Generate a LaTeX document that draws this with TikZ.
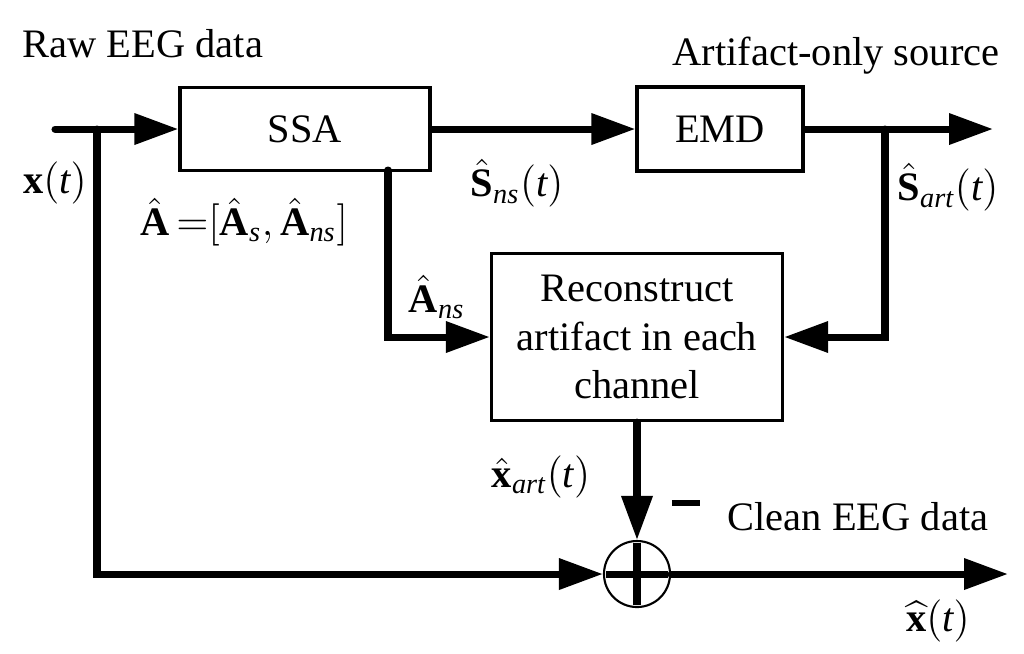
\documentclass[tikz,border=0pt]{standalone}
\usepackage{amsmath, amssymb}
\usepackage{fontspec}
\setmainfont{Liberation Serif}
\usepackage{tikz}
\usetikzlibrary{arrows.meta,shapes}

\begin{document}
\begin{tikzpicture}[x=0.01cm,y=-0.01cm,font=\fontsize{11.5}{13.7}\selectfont,
		block/.style={draw,line width=0.9pt,inner sep=0pt,align=center},
		sig/.style={line width=2pt,line cap=round,-{Triangle[length=12.5pt,width=8.5pt]}},
		lbl/.style={inner sep=0pt}]
		\useasboundingbox (0,0) rectangle (1024,653);
		\node[block,minimum width=2.5cm,minimum height=0.83cm] (ssa) at (305,129) {SSA};
		\node[block,minimum width=1.66cm,minimum height=0.84cm] (emd) at (720,129) {EMD};
		\node[block,minimum width=2.91cm,minimum height=1.67cm] (rec) at (637,337) {Reconstruct\\artifact in each\\channel};
		\node[draw,circle,line width=0.6pt,minimum size=0.66cm,inner sep=0pt] (sum) at (637,574) {};
		\draw[line width=2pt] ([yshift=-1pt]sum.north) -- ([yshift=1pt]sum.south)
		([xshift=1pt]sum.west) -- ([xshift=-1pt]sum.east);
		%
		\coordinate (in) at (55,129);
		\coordinate (split) at (97,129);
		\coordinate (ssab) at (388,170);
		\coordinate (branch) at (885,129);
		\coordinate (out1) at (993,129);
		\coordinate (out2) at (1008,574);
		%
		\draw[sig] (in) -- (ssa.west);
		\draw[sig] (ssa.east) -- (emd.west);
		\draw[sig] (emd.east) -- (out1);
		\draw[sig] (ssab) |- (rec.west);
		\draw[sig] (branch) |- (rec.east);
		\draw[sig] (rec.south) -- (sum.north);
		\draw[sig] (split) |- (sum.west);
		\draw[sig] (sum.east) -- (out2);
		%
		\node[lbl,anchor=base west] (raw) at (22,57) {Raw EEG data};
		\node[lbl,anchor=base west] (src) at (672,65) {Artifact-only source};
		\node[lbl,anchor=base west] (clean) at (727,530) {Clean EEG data};
		\node[lbl] (x) at (55,183) {$\mathbf{x}(\mathit{t})$};
		\node[lbl] (A) at (244,222) {$\hat{\mathbf{A}}\,{=}[\hat{\mathbf{A}}_{\mathit{s}},\hat{\mathbf{A}}_{\mathit{ns}}]$};
		\node[lbl] (Sns) at (517,183) {$\hat{\mathbf{S}}_{\mathit{ns}}(\mathit{t})$};
		\node[lbl] (Sart) at (948,187) {$\hat{\mathbf{S}}_{\mathit{art}}(\mathit{t})$};
		\node[lbl] (Ans) at (437,297) {$\hat{\mathbf{A}}_{\mathit{ns}}$};
		\node[lbl] (xart) at (541,477) {$\hat{\mathbf{x}}_{\mathit{art}}(\mathit{t})$};
		\node[lbl] (xc) at (938,621) {$\widehat{\mathbf{x}}(\mathit{t})$};
		\node[lbl] (minus) at (686,503) {\rule{8pt}{1.5pt}};
		\end{tikzpicture}
\end{document}
